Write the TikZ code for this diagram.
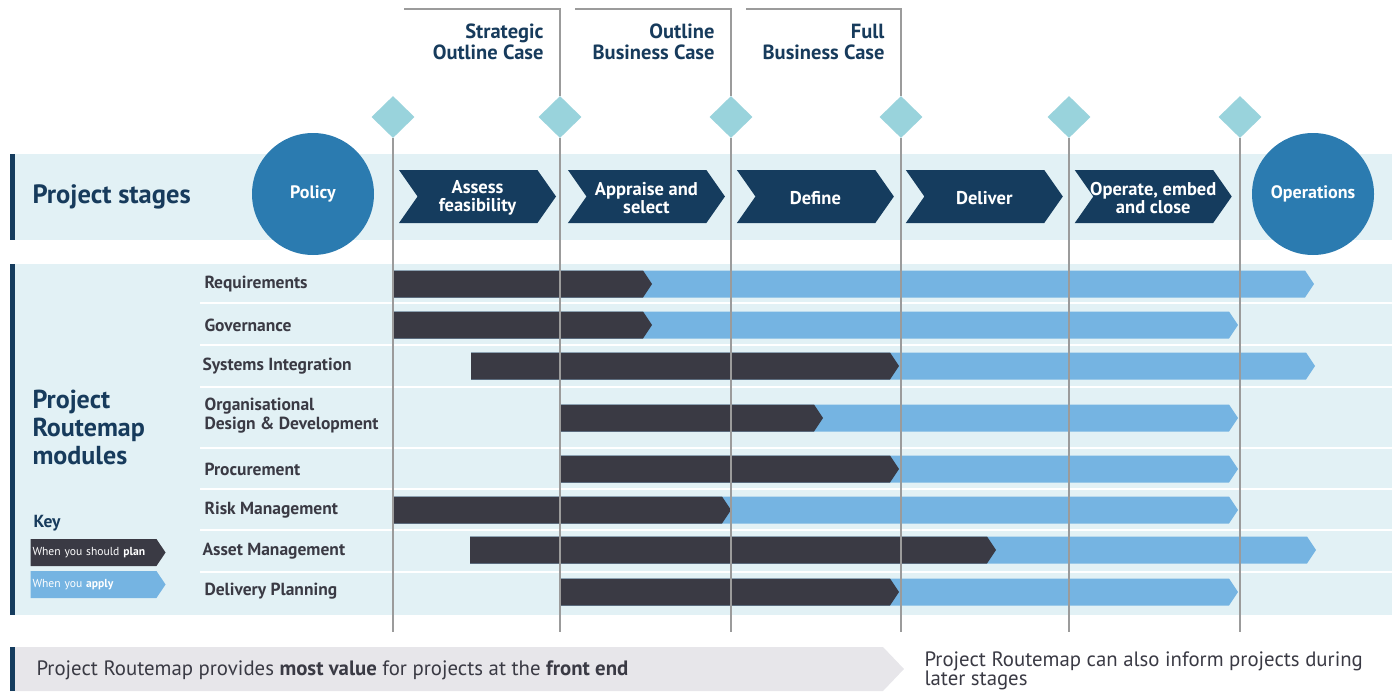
\documentclass[tikz,border=0pt]{standalone}
\usepackage{fontspec}
\setmainfont{PT Sans}
\usetikzlibrary{positioning,shapes.geometric,shapes.symbols}

\definecolor{navy}{HTML}{153C5E}
\definecolor{navytext}{HTML}{173B5C}
\definecolor{circblue}{HTML}{2B7BB0}
\definecolor{bandblue}{HTML}{E2F1F5}
\definecolor{gatecol}{HTML}{99D3DC}
\definecolor{plandark}{HTML}{3A3A44}
\definecolor{applyblue}{HTML}{75B4E2}
\definecolor{gridgray}{HTML}{9B9B9B}
\definecolor{footgray}{HTML}{E7E6EA}

\tikzset{
    stagebox/.style={
           signal, signal to=east, signal from=west,
           signal pointer angle=110,
           fill=navy,
           minimum width=157pt, minimum height=53pt,
           inner sep=0pt,
           },
    stagetext/.style={
           text=white, align=center, yshift=-1.5pt,
           font=\bfseries\fontsize{18.5}{17.5}\selectfont,
           },
    endcircle/.style={
           circle, fill=circblue, text=white,
           font=\bfseries\fontsize{18}{19}\selectfont,
           minimum size=122pt, inner sep=0pt,
           },
    gate/.style={
           diamond, fill=gatecol, aspect=1,
           minimum width=43pt, minimum height=42pt, inner sep=0pt,
           },
    casetext/.style={
           anchor=east, align=right, text=navytext,
           font=\bfseries\fontsize{20.5}{21.5}\selectfont,
           },
    modlabel/.style={
           anchor=west, align=left, text=plandark,
           font=\bfseries\fontsize{17.5}{19}\selectfont,
           },
    keybox/.style={
           signal, signal to=east, signal pointer angle=112,
           text=white, font=\fontsize{11.6}{12}\selectfont,
           minimum width=135pt, minimum height=27pt,
           inner sep=0pt, text width=122pt, align=left,
           },
    gridline/.style={draw=gridgray, line width=1.2pt},
}

% one module row: y, start, end of plan tip, end of apply tip
\newcommand{\modbar}[4]{%
  \fill[applyblue] (#2,{#1-13.5}) -- ({#4-9},{#1-13.5}) -- (#4,#1)
      -- ({#4-9},{#1+13.5}) -- (#2,{#1+13.5}) -- cycle;
  \fill[plandark] (#2,{#1-13.5}) -- ({#3-9},{#1-13.5}) -- (#3,#1)
      -- ({#3-9},{#1+13.5}) -- (#2,{#1+13.5}) -- cycle;
}

\begin{document}
\begin{tikzpicture}[x=1pt,y=-1pt]
\useasboundingbox (0,0) rectangle (1392,691);

 % background bands
 \fill[bandblue] (10,154) rectangle (1392,240);
 \fill[navy] (10,154) rectangle (15,240);
 \fill[bandblue] (10,264) rectangle (1392,615);
 \fill[navy] (10,264) rectangle (15,615);
 \foreach \y in {303,345,387,448,489,530,572}
   \draw[white, line width=2pt] (200,\y) -- (1392,\y);

 % module bars
 \modbar{284}{393}{652}{1314}
 \modbar{325}{393}{652}{1238}
 \modbar{366}{471}{899}{1315}
 \modbar{418}{561}{823}{1238}
 \modbar{469}{561}{899}{1238}
 \modbar{510}{393}{731}{1238}
 \modbar{550}{470}{996}{1316}
 \modbar{592}{561}{899}{1238}

 % gates
 \node[gate] (g1) at (393,117) {};
 \node[gate] (g2) at (560,117) {};
 \node[gate] (g3) at (731,117) {};
 \node[gate] (g4) at (901,117) {};
 \node[gate] (g5) at (1069,117) {};
 \node[gate] (g6) at (1240,117) {};
 \coordinate (gridend) at (0,632);
 \foreach \g in {g1,g2,g3,g4,g5,g6}
   \draw[gridline] (\g.south) -- (\g.south |- gridend);
 \draw[gridline] (404,9) -- (560,9) -- (g2.north);
 \draw[gridline] (575,9) -- (731,9) -- (g3.north);
 \draw[gridline] (746,9) -- (901,9) -- (g4.north);

 \node[casetext] (soc) at (547,42) {Strategic\\Outline Case};
 \node[casetext] (obc) at (718,42) {Outline\\Business Case};
 \node[casetext] (fbc) at (888,42) {Full\\Business Case};

 % stages
 \node[endcircle] (policy) at (313,194) {Policy};
 \node[endcircle] (ops) at (1313,194) {Operations};
 \node[stagebox, label={[stagetext]center:Assess\\feasibility}]
   (assess) at (477.5,196.5) {};
 \node[stagebox, right=30pt of assess,
   label={[stagetext]center:Appraise and\\select}] (appraise) {};
 \node[stagebox, right=30pt of appraise,
   label={[stagetext]center:Define}] (define) {};
 \node[stagebox, right=30pt of define,
   label={[stagetext]center:Deliver}] (deliver) {};
 \node[stagebox, right=30pt of deliver,
   label={[stagetext]center:Operate, embed\\and close}] (operate) {};

 \node[anchor=west, text=navytext, font=\bfseries\fontsize{26.5}{30}\selectfont]
   (stagestitle) at (29,197) {Project stages};
 \node[anchor=west, align=left, text=navytext, font=\bfseries\fontsize{26}{28}\selectfont]
   (modtitle) at (29,427) {Project\\Routemap\\modules};

 % module names
 \node[modlabel] (req) at (201,284) {Requirements};
 \node[modlabel] (gov) at (201,325) {Governance};
 \node[modlabel] (sys) at (199,366) {Systems Integration};
 \node[modlabel] (org) at (201,416) {Organisational\\Design \& Development};
 \node[modlabel] (proc) at (201,469) {Procurement};
 \node[modlabel] (risk) at (201,510) {Risk Management};
 \node[modlabel] (asset) at (199,551) {Asset Management};
 \node[modlabel] (deliv) at (201,591) {Delivery Planning};

 % key
 \node[anchor=west, text=navytext, font=\bfseries\fontsize{17.5}{18}\selectfont]
   (keytitle) at (30,523) {Key};
 \node[keybox, fill=plandark] (keyplan) at (93.5,552.5) {When you should \textbf{plan}};
 \node[keybox, fill=applyblue] (keyapply) at (93.5,584.5) {When you \textbf{apply}};

 % footer
 \fill[footgray] (10,647) -- (883,647) -- (904,669) -- (883,691) -- (10,691) -- cycle;
 \fill[navy] (10,647) rectangle (15,691);
 \node[anchor=west, text=plandark, font=\fontsize{20.8}{20}\selectfont] (frontend) at (33,670)
   {Project Routemap provides \textbf{most value} for projects at the \textbf{front end}};
 \node[anchor=west, align=left, text=plandark, font=\fontsize{20.8}{19.5}\selectfont] (later) at (921,671)
   {Project Routemap can also inform projects during\\later stages};
\end{tikzpicture}
\end{document}
